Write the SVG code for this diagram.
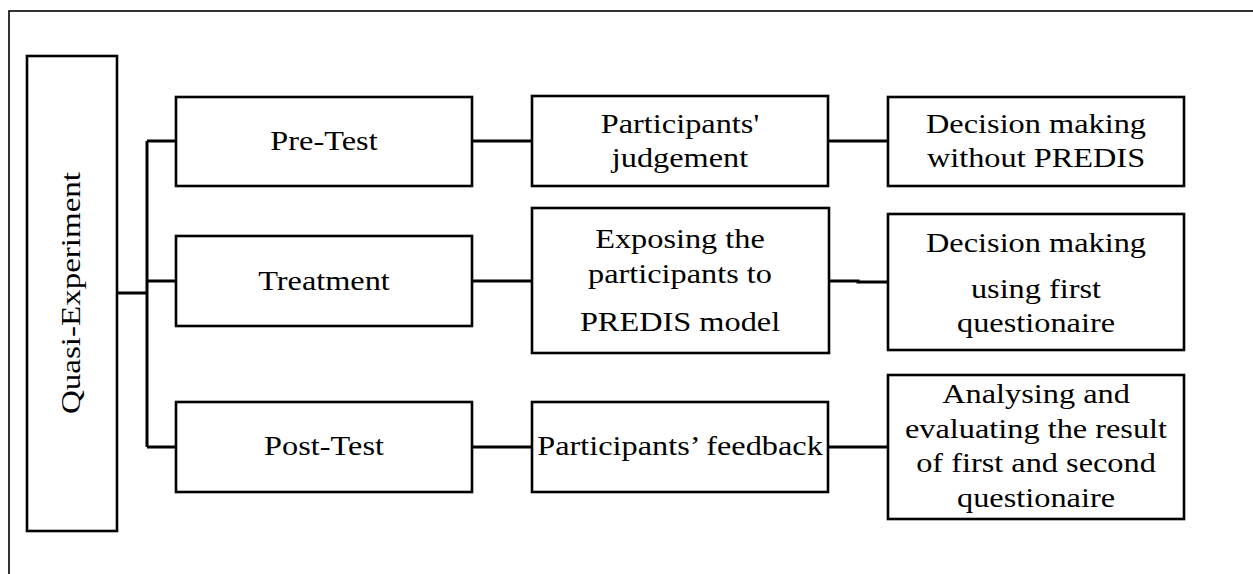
<svg xmlns="http://www.w3.org/2000/svg" width="1253" height="574" viewBox="0 0 1253 574">
<style>
.box{fill:#fff;stroke:#000;stroke-width:2.6}
.t{font-family:"Liberation Serif","Times New Roman",serif;font-size:28px;fill:#000;text-anchor:middle}
.c{fill:none;stroke:#000;stroke-width:3}
</style>
<rect x="9" y="11" width="1260" height="580" fill="#fff" stroke="#000" stroke-width="1.6"/>
<g id="connectors">
<path class="c" d="M117,293 H147 M147,141 V447 M147,141 H176 M147,281 H176 M147,447 H176"/>
<path class="c" d="M472,141 H532 M472,281 H532 M472,447 H532"/>
<path class="c" d="M828,141 H888 M829,281 H858 V282 H888 M828,447 H888"/>
</g>
<g id="quasi">
<rect class="box" x="27" y="56" width="90" height="475"/>
<text class="t" transform="translate(80,293) rotate(-90) scale(1.18,1)">Quasi-Experiment</text>
</g>
<g id="pretest">
<rect class="box" x="176" y="97" width="296" height="89"/>
<text class="t" transform="matrix(1.155 0 0 1 324 0)" y="150">Pre-Test</text>
</g>
<g id="treatment">
<rect class="box" x="176" y="236" width="296" height="90"/>
<text class="t" transform="matrix(1.155 0 0 1 324 0)" y="290">Treatment</text>
</g>
<g id="posttest">
<rect class="box" x="176" y="402" width="296" height="90"/>
<text class="t" transform="matrix(1.155 0 0 1 324 0)" y="455">Post-Test</text>
</g>
<g id="judgement">
<rect class="box" x="532" y="96" width="296" height="90"/>
<g transform="matrix(1.155 0 0 1 680 0)">
<text class="t" y="133">Participants'</text>
<text class="t" y="167">judgement</text>
</g>
</g>
<g id="exposing">
<rect class="box" x="532" y="208" width="297" height="145"/>
<g transform="matrix(1.155 0 0 1 680 0)">
<text class="t" y="248">Exposing the</text>
<text class="t" y="283">participants to</text>
<text class="t" y="331">PREDIS model</text>
</g>
</g>
<g id="feedback">
<rect class="box" x="532" y="402" width="296" height="90"/>
<text class="t" transform="matrix(1.155 0 0 1 680 0)" y="455">Participants’ feedback</text>
</g>
<g id="without">
<rect class="box" x="888" y="97" width="296" height="89"/>
<g transform="matrix(1.155 0 0 1 1036 0)">
<text class="t" y="133">Decision making</text>
<text class="t" y="167">without PREDIS</text>
</g>
</g>
<g id="using">
<rect class="box" x="888" y="214" width="296" height="136"/>
<g transform="matrix(1.155 0 0 1 1036 0)">
<text class="t" y="252">Decision making</text>
<text class="t" y="298">using first</text>
<text class="t" y="332">questionaire</text>
</g>
</g>
<g id="analysing">
<rect class="box" x="888" y="375" width="296" height="144"/>
<g transform="matrix(1.155 0 0 1 1036 0)">
<text class="t" y="403">Analysing and</text>
<text class="t" y="438">evaluating the result</text>
<text class="t" y="472">of first and second</text>
<text class="t" y="507">questionaire</text>
</g>
</g>
</svg>
